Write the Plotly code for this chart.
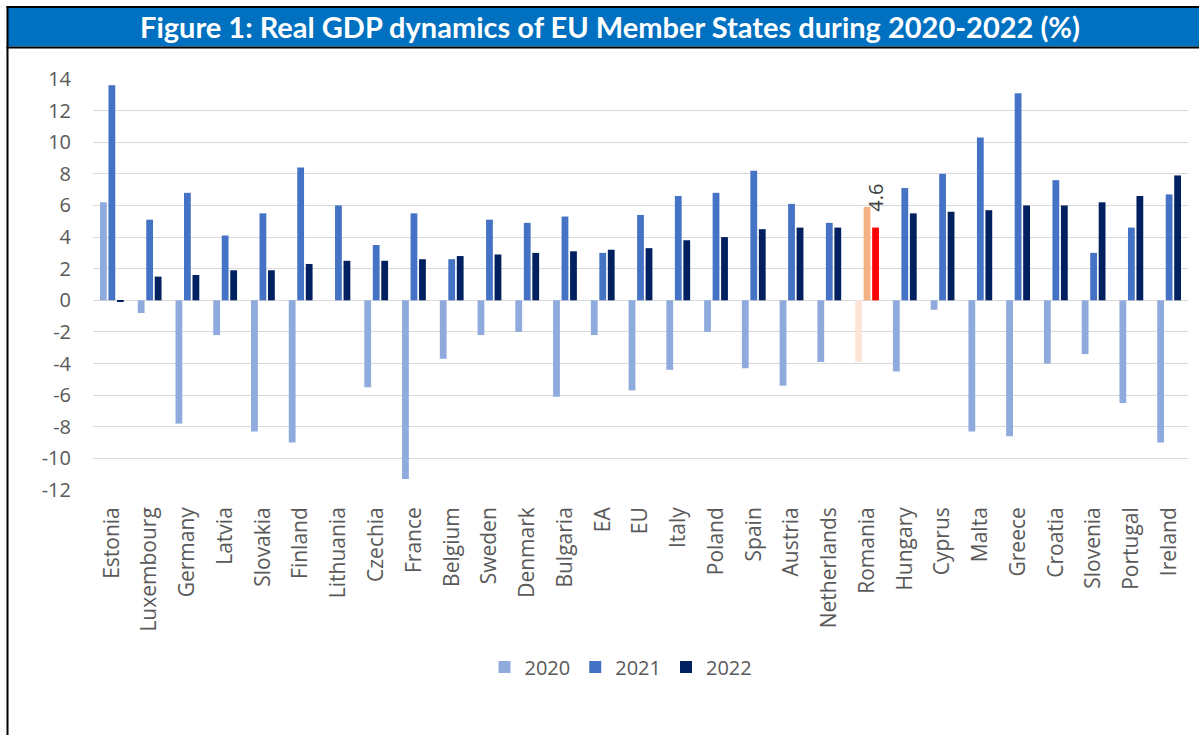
import plotly.graph_objects as go

# Real GDP growth by member state, %
countries = ["Estonia", "Luxembourg", "Germany", "Latvia", "Slovakia", "Finland",
             "Lithuania", "Czechia", "France", "Belgium", "Sweden", "Denmark",
             "Bulgaria", "EA", "EU", "Italy", "Poland", "Spain", "Austria",
             "Netherlands", "Romania", "Hungary", "Cyprus", "Malta", "Greece",
             "Croatia", "Slovenia", "Portugal", "Ireland"]
gdp_2020 = [6.2, -0.8, -7.8, -2.2, -8.3, -9.0, 0.0, -5.5, -11.3, -3.7, -2.2, -2.0,
            -6.1, -2.2, -5.7, -4.4, -2.0, -4.3, -5.4, -3.9, -3.9, -4.5, -0.6, -8.3,
            -8.6, -4.0, -3.4, -6.5, -9.0]
gdp_2021 = [13.6, 5.1, 6.8, 4.1, 5.5, 8.4, 6.0, 3.5, 5.5, 2.6, 5.1, 4.9,
            5.3, 3.0, 5.4, 6.6, 6.8, 8.2, 6.1, 4.9, 5.9, 7.1, 8.0, 10.3,
            13.1, 7.6, 3.0, 4.6, 6.7]
gdp_2022 = [-0.1, 1.5, 1.6, 1.9, 1.9, 2.3, 2.5, 2.5, 2.6, 2.8, 2.9, 3.0,
            3.1, 3.2, 3.3, 3.8, 4.0, 4.5, 4.6, 4.6, 4.6, 5.5, 5.6, 5.7,
            6.0, 6.0, 6.2, 6.6, 7.9]
years = ["2020", "2021", "2022"]
y_tick_vals = [14, 12, 10, 8, 6, 4, 2, 0, -2, -4, -6, -8, -10, -12]
y_tick_text = ["14", "12", "10", "8", "6", "4", "2", "0", "-2", "-4", "-6", "-8", "-10", "-12"]

highlight = "Romania"
base_colors = ["#8FAADC", "#4472C4", "#002060"]
highlight_colors = ["#FBE5D6", "#F4B183", "#FF0000"]

W, H = 1199, 735
L, R, T, B = 93, 11, 79, 245
PW, PH = W - L - R, H - T - B
TXT = "#595959"
FONT = "Open Sans"


def fx(p):
    return (p - L) / PW


def fy(p):
    return (H - B - p) / PH


fig = go.Figure()
for year, vals, base, hi in zip(years, [gdp_2020, gdp_2021, gdp_2022], base_colors, highlight_colors):
    colors = [hi if c == highlight else base for c in countries]
    fig.add_trace(go.Bar(
        x=countries, y=vals, name=year,
        marker=dict(color=colors, line=dict(width=0)),
    ))

# data label on the highlighted 2022 bar
hi_idx = countries.index(highlight)
fig.add_annotation(
    x=highlight, y=gdp_2022[hi_idx], text=f"{gdp_2022[hi_idx]:.1f}",
    textangle=-90, showarrow=False, xanchor="center", yanchor="bottom",
    xshift=9, yshift=14,
    font=dict(family=FONT, size=20, color="#404040"),
)

# title banner
fig.add_shape(type="rect", xref="paper", yref="paper",
              x0=fx(8), x1=fx(1205), y0=fy(46.5), y1=fy(7.5),
              fillcolor="#0070C0", line=dict(width=0), layer="above")
fig.add_shape(type="line", xref="paper", yref="paper",
              x0=fx(6.5), x1=fx(1205), y0=fy(7), y1=fy(7),
              line=dict(color="black", width=2), layer="above")
fig.add_shape(type="line", xref="paper", yref="paper",
              x0=fx(6.5), x1=fx(1205), y0=fy(47.5), y1=fy(47.5),
              line=dict(color="black", width=2), layer="above")
fig.add_shape(type="line", xref="paper", yref="paper",
              x0=fx(7.5), x1=fx(7.5), y0=fy(6), y1=fy(740),
              line=dict(color="black", width=2), layer="above")
fig.add_annotation(
    xref="paper", yref="paper", x=fx(610), y=fy(27),
    xanchor="center", yanchor="middle", showarrow=False,
    text="<b>Figure 1: Real GDP dynamics of EU Member States during 2020-2022 (%)</b>",
    font=dict(family="Lato", size=29, color="white"),
)

fig.update_layout(
    width=W, height=H,
    margin=dict(l=L, r=R, t=T, b=B, pad=0),
    paper_bgcolor="white", plot_bgcolor="white",
    barmode="group", bargap=0.325, bargroupgap=0.2,
    font=dict(family=FONT, size=20, color=TXT),
    showlegend=True,
    legend=dict(orientation="h", x=fx(621), y=fy(667), xanchor="center", yanchor="middle",
                font=dict(family=FONT, size=20, color=TXT),
                bgcolor="rgba(0,0,0,0)"),
)
fig.update_xaxes(
    tickangle=-90, showgrid=False, showline=False, ticks="",
    tickfont=dict(family=FONT, size=21, color=TXT),
    ticklabelstandoff=12,
)
fig.update_yaxes(
    range=[-12, 14], tickvals=y_tick_vals, ticktext=y_tick_text,
    showgrid=True, gridcolor="#D9D9D9", gridwidth=1.3,
    zeroline=True, zerolinecolor="#D9D9D9", zerolinewidth=1.3,
    showline=False, ticks="",
    tickfont=dict(family=FONT, size=20, color=TXT),
    ticklabelstandoff=21,
)

fig.write_html("out.html")
